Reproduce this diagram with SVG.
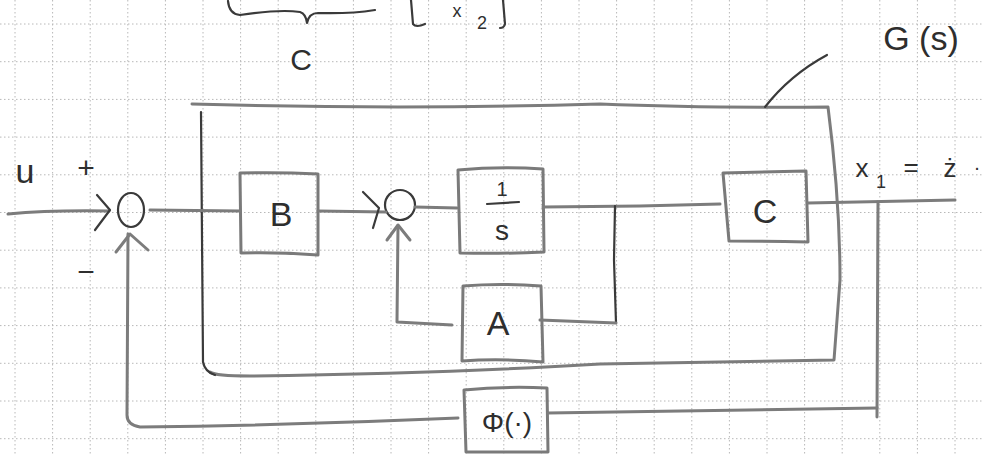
<svg xmlns="http://www.w3.org/2000/svg" width="982" height="454" viewBox="0 0 982 454">
<style>
.grid{stroke:#b8b8b8;stroke-width:1;stroke-dasharray:1.5 2.5;fill:none}
.pen{stroke:#7c7c7c;stroke-width:3;fill:none;stroke-linecap:round;stroke-linejoin:round}
.ink{stroke:#3a3a3a;stroke-width:2.2;fill:none;stroke-linecap:round;stroke-linejoin:round}
.box{stroke:#7a7a7a;stroke-width:3;fill:none;stroke-linejoin:round}
.lbl{font-family:"Liberation Sans",Arial,sans-serif;fill:#2e2e2e;text-anchor:middle}
</style>
<rect width="982" height="454" fill="#ffffff"/>
<g id="grid-paper">
<path class="grid" d="M15 0V454M52.6 0V454M90.2 0V454M127.8 0V454M165.4 0V454M203 0V454M240.6 0V454M278.2 0V454M315.8 0V454M353.4 0V454M391 0V454M428.6 0V454M466.2 0V454M503.8 0V454M541.4 0V454M579 0V454M616.6 0V454M654.2 0V454M691.8 0V454M729.4 0V454M767 0V454M804.6 0V454M842.2 0V454M879.8 0V454M917.4 0V454M955 0V454"/>
<path class="grid" d="M0 24H982M0 61.7H982M0 99.4H982M0 137.1H982M0 174.8H982M0 212.5H982M0 250.2H982M0 287.9H982M0 325.6H982M0 363.3H982M0 401H982M0 438.7H982"/>
</g>
<g id="top-fragment">
<path class="ink" d="M228 1 Q229 14 240 15 Q280 9 300 12 Q306 14 307 23 Q309 13 318 13 Q350 14 375 10"/>
<text class="lbl" x="301" y="70" font-size="30">C</text>
<path class="ink" d="M411 0 L413 24 Q416 28 425 24"/>
<text class="lbl" x="457" y="17" font-size="18">x</text>
<text class="lbl" x="482" y="29" font-size="18">2</text>
<path class="ink" d="M503 0 L505 24 Q504 28 500 28"/>
</g>
<g id="Gs-label">
<text class="lbl" x="921" y="50" font-size="34">G (s)</text>
</g>
<g id="Gs-frame">
<path class="pen" d="M192 104 Q400 110 600 104 Q700 108 828 107 Q840 200 840 280 L834 360 Q700 362 600 364 Q450 373 250 376 Q215 376 210 372"/>
<path class="ink" d="M201 112 L203 362 Q205 372 215 375"/>
</g>
<g id="sum1">
<ellipse class="ink" cx="131" cy="210" rx="13" ry="17"/>
</g>
<g id="B">
<path class="box" d="M240 173 Q280 172 318 174 L318 255 Q280 252 241 253 Z"/>
<text class="lbl" x="281" y="226" font-size="34">B</text>
</g>
<g id="sum2">
<circle class="ink" cx="400" cy="205" r="15"/>
</g>
<g id="integrator">
<path class="box" d="M458 170 Q500 166 543 169 L544 252 Q500 254 460 253 Z"/>
<text class="lbl" x="502" y="196" font-size="20">1</text>
<path class="ink" d="M487 204 L519 202"/>
<text class="lbl" x="502" y="240" font-size="28">s</text>
</g>
<g id="A">
<path class="box" d="M463 286 Q500 283 541 286 L543 362 Q500 358 462 361 Z"/>
<text class="lbl" x="498" y="335" font-size="34">A</text>
</g>
<g id="C">
<path class="box" d="M723 173 Q765 172 806 171 L808 242 Q765 241 729 241 Z"/>
<text class="lbl" x="765" y="223" font-size="34">C</text>
</g>
<g id="Phi">
<path class="box" d="M464 390 Q505 386 547 388 L548 452 Q505 452 466 452 Z"/>
<text class="lbl" x="507" y="432" font-size="28">Φ(·)</text>
</g>
<g id="connectors">
<path class="pen" d="M8 214 Q50 210 109 211"/>
<path class="ink" d="M97 195 L110 210 L95 230"/>
<path class="pen" d="M150 210 L240 211"/>
<path class="pen" d="M318 211 L386 212"/>
<path class="ink" d="M363 192 L379 208 L373 228"/>
<path class="pen" d="M415 207 L457 208"/>
<path class="pen" d="M543 207 L640 206 L720 204"/>
<path class="ink" d="M615 206 L614 260 L616 323"/>
<path class="pen" d="M616 323 L540 320"/>
<path class="pen" d="M452 325 L397 322 L398 226"/>
<path class="pen" d="M387 240 L398 225 L410 240"/>
<path class="pen" d="M808 203 L955 200"/>
<path class="pen" d="M878 202 L877 417"/>
<path class="pen" d="M877 408 Q700 410 548 413"/>
<path class="pen" d="M458 418 Q300 425 140 427 Q127 425 127 415 L128 234"/>
<path class="pen" d="M116 252 L130 234 L148 250"/>
<path class="ink" d="M765 107 Q790 75 827 55"/>
</g>
<g id="labels">
<text class="lbl" x="25" y="183" font-size="34">u</text>
<text class="lbl" x="86" y="178" font-size="30">+</text>
<text class="lbl" x="86" y="282" font-size="30">−</text>
<text class="lbl" x="862" y="177" font-size="26">x</text>
<text class="lbl" x="881" y="188" font-size="18">1</text>
<text class="lbl" x="911" y="176" font-size="26">=</text>
<text class="lbl" x="950" y="177" font-size="26">ż</text>
<text class="lbl" x="977" y="170" font-size="20">.</text>
</g>
</svg>
